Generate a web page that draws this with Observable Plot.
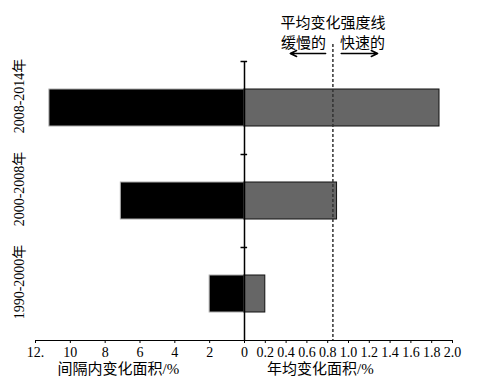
<!DOCTYPE html>
<html><head><meta charset="utf-8">
<script src="https://cdn.jsdelivr.net/npm/d3@7"></script>
<script src="https://cdn.jsdelivr.net/npm/@observablehq/plot@0.6"></script>
<style>
body{margin:0;background:#fff}
svg{font-family:"Liberation Serif","Noto Sans CJK SC",serif}
</style>
</head><body><div id="chart"></div>
<script>
const periods = ["2008-2014年", "2000-2008年", "1990-2000年"];
const intervalChange = [11.2, 7.1, 2.0];      // 间隔内变化面积/%
const annualChange = [1.875, 0.89, 0.2];       // 年均变化面积/%
const threshold = 0.85;                        // 平均变化强度线
const leftTicks = [12, 10, 8, 6, 4, 2, 0];
const rightTicks = [0.2, 0.4, 0.6, 0.8, 1.0, 1.2, 1.4, 1.6, 1.8, 2.0];
const leftTickLabels = ["12.", "10", "8", "6", "4", "2", "0"];
const rightTickLabels = ["0.2", "0.4", "0.6", "0.8", "1.0", "1.2", "1.4", "1.6", "1.8", "2.0"];
const leftAxisLabel = "间隔内变化面积/%";
const rightAxisLabel = "年均变化面积/%";
const annotTitle = "平均变化强度线";
const annotSlow = "缓慢的";
const annotFast = "快速的";

const rows = periods.map((p, i) => ({period: p, interval: -intervalChange[i], annual: annualChange[i]}));
const xTicks = leftTicks.map(v => -v).concat(rightTicks);
const xLabels = leftTickLabels.concat(rightTickLabels);
const fmt = v => xLabels[xTicks.findIndex(t => Math.abs(t - v) < 1e-9)];

const plot = Plot.plot({
  width: 483, height: 390,
  marginTop: 61, marginBottom: 50, marginLeft: 35, marginRight: 31,
  style: {fontFamily: '"Liberation Serif","Noto Sans CJK SC",serif', fontSize: "14px", background: "#fff", color: "#000"},
  x: {type: "linear", domain: [-12, 0, 2], range: [35, 244, 452]},
  y: {domain: periods, paddingInner: 0.6, paddingOuter: 0.3, axis: null},
  marks: [
    Plot.barX(rows, {y: "period", x1: d => 0, x2: "interval", fill: "#000", stroke: "#aaa", strokeWidth: 1}),
    Plot.barX(rows, {y: "period", x1: d => 0, x2: "annual", fill: "#666", stroke: "#111", strokeWidth: 1}),
    Plot.ruleX([threshold], {insetTop: -17, stroke: "#333", strokeWidth: 1.5, strokeDasharray: "3,2"}),
    Plot.ruleX([0], {stroke: "#000", strokeWidth: 1.5}),
    Plot.ruleY(periods, {x1: d => -0.2, x2: d => 0.03, dy: -46.5, stroke: "#000", strokeWidth: 1.5}),
    Plot.ruleY([periods[2]], {x1: d => -12, x2: d => 2, dy: 46.5, stroke: "#000", strokeWidth: 1}),
    Plot.axisX({ticks: xTicks, tickFormat: fmt, tickSize: 3, tickPadding: 4, fontSize: 14}),
    Plot.text(periods, {y: d => d, frameAnchor: "left", rotate: -90, textAnchor: "middle", dx: -16, dy: -12, fontSize: 14}),
    Plot.text([{t: leftAxisLabel, x: -7.24}, {t: rightAxisLabel, x: 0.73}], {x: "x", text: "t", frameAnchor: "bottom", dy: 33, fontSize: 15}),
    Plot.text([annotTitle], {x: d => threshold, text: d => d, frameAnchor: "top", dy: -44, fontSize: 15}),
    Plot.text([annotSlow], {x: d => threshold, text: d => d, frameAnchor: "top", textAnchor: "end", dx: -7, dy: -24, fontSize: 15}),
    Plot.text([annotFast], {x: d => threshold, text: d => d, frameAnchor: "top", textAnchor: "start", dx: 7, dy: -24, fontSize: 15}),
    Plot.arrow([{a: 0.78, b: 0.44}, {a: 0.93, b: 1.28}], {x1: "a", x2: "b", y1: d => periods[0], y2: d => periods[0], dy: -54.5, stroke: "#000", strokeWidth: 1.5, headLength: 7, headAngle: 50})
  ]
});
document.getElementById("chart").appendChild(plot);
</script>
</body></html>
